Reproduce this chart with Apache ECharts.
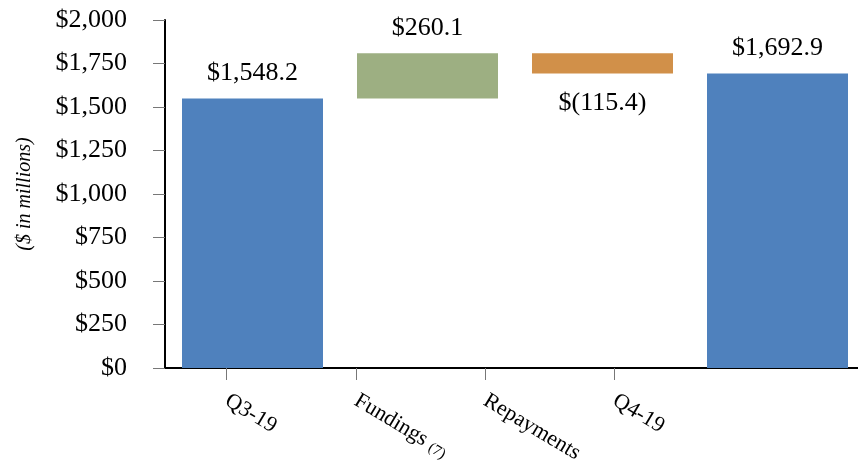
<!DOCTYPE html>
<html>
<head>
<meta charset="utf-8">
<script src="https://cdn.jsdelivr.net/npm/echarts@6/dist/echarts.min.js"></script>
<style>
  html, body { margin: 0; padding: 0; background: #fff; }
  #chart { width: 858px; height: 464px; }
</style>
</head>
<body>
<div id="chart"></div>
<script>
// categories and changes ($ in millions)
var categories = ['Q3-19', 'Fundings (7)', 'Repayments', 'Q4-19']
var changes = [1548.2, 260.1, -115.4, 1692.9]
var isTotal = [true, false, false, true]
var barColors = ['#4f81bd', '#9daf82', '#d19049', '#4f81bd']
var yTicks = [0, 250, 500, 750, 1000, 1250, 1500, 1750, 2000]

var font = 'Liberation Serif'

function money(v) {
  var s = Math.abs(v).toLocaleString('en-US', { minimumFractionDigits: 1, maximumFractionDigits: 1 })
  return v < 0 ? '$(' + s + ')' : '$' + s
}

// transparent base + visible part (waterfall)
var base = []
var heights = []
var running = 0
for (var i = 0; i < changes.length; i++) {
  if (isTotal[i]) {
    base.push(0)
    heights.push(changes[i])
    running = changes[i]
  } else {
    var next = running + changes[i]
    base.push(Math.min(running, next))
    heights.push(Math.abs(changes[i]))
    running = next
  }
}

var barData = heights.map(function (h, i) {
  return {
    value: h,
    itemStyle: { color: barColors[i] },
    label: {
      show: true,
      position: changes[i] < 0 ? 'bottom' : 'top',
      distance: changes[i] < 0 ? 17 : 12,
      formatter: money(changes[i]),
    },
  }
})

var chart = echarts.init(document.getElementById('chart'))
chart.setOption({
  animation: false,
  textStyle: { fontFamily: font },
  grid: [
    { left: 165, top: 20, width: 700, bottom: 96, outerBoundsMode: 'none' },
    // grid used only to place the slanted category labels
    { left: 226.7, top: 20, width: 387.8, bottom: 96, outerBoundsMode: 'none' },
  ],
  xAxis: [
    {
      type: 'category',
      data: categories,
      gridIndex: 0,
      axisLine: { lineStyle: { color: '#000', width: 2 } },
      axisTick: { show: false },
      axisLabel: { show: false },
    },
    {
      type: 'category',
      data: categories,
      gridIndex: 1,
      boundaryGap: false,
      axisLine: { show: false },
      axisTick: { show: true, length: 12, lineStyle: { color: '#777', width: 1 } },
      axisLabel: {
        rotate: -31,
        margin: 31,
        fontFamily: font,
        fontSize: 22,
        color: '#000',
        formatter: function (v) {
          return v.replace('(7)', '{s|(7)}')
        },
        rich: { s: { fontFamily: font, fontSize: 15, color: '#000', padding: [6, 0, 0, 0] } },
      },
    },
  ],
  yAxis: [
    {
      type: 'value',
      gridIndex: 0,
      min: 0,
      max: 2000,
      interval: 250,
      name: '($ in millions)',
      nameLocation: 'middle',
      nameGap: 130,
      nameRotate: 90,
      nameTextStyle: { fontFamily: font, fontStyle: 'italic', fontSize: 20, color: '#000' },
      axisLine: { show: true, lineStyle: { color: '#000', width: 2 } },
      axisTick: { show: true, length: 12, lineStyle: { color: '#777', width: 1 } },
      splitLine: { show: false },
      axisLabel: {
        margin: 38,
        fontFamily: font,
        fontSize: 26,
        color: '#000',
        formatter: function (v) {
          return yTicks.indexOf(v) >= 0 ? '$' + v.toLocaleString('en-US') : ''
        },
      },
    },
    { type: 'value', gridIndex: 1, min: 0, max: 2000, show: false },
  ],
  series: [
    {
      type: 'bar',
      stack: 'w',
      xAxisIndex: 0,
      yAxisIndex: 0,
      barWidth: 141,
      itemStyle: { color: 'transparent' },
      data: base,
      silent: true,
    },
    {
      type: 'bar',
      stack: 'w',
      xAxisIndex: 0,
      yAxisIndex: 0,
      barWidth: 141,
      label: { fontFamily: font, fontSize: 26, color: '#000' },
      data: barData,
    },
  ],
})
</script>
</body>
</html>
